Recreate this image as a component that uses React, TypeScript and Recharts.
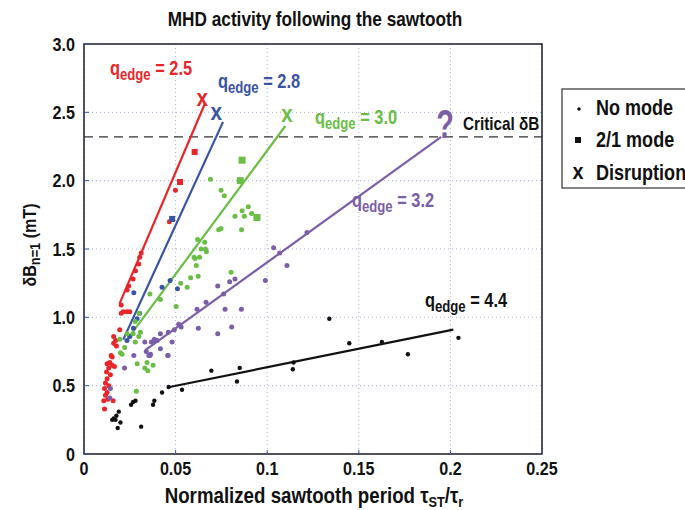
import React from 'react'
import { ScatterChart, Scatter, XAxis, YAxis, CartesianGrid, ReferenceLine, ReferenceArea } from 'recharts'

const xTicks = [0, 0.05, 0.1, 0.15, 0.2, 0.25]
const yTicks = [0, 0.5, 1, 1.5, 2, 2.5, 3]
const criticalDB = 2.32

// no-mode points, one array per q_edge
const redDots = [
  { x: 0.0312, y: 1.47 }, { x: 0.0304, y: 1.44 }, { x: 0.0299, y: 1.39 }, { x: 0.0281, y: 1.34 },
  { x: 0.0268, y: 1.28 }, { x: 0.0244, y: 1.23 }, { x: 0.0235, y: 1.2 }, { x: 0.0203, y: 1.09 },
  { x: 0.0214, y: 1.04 }, { x: 0.0235, y: 1.04 }, { x: 0.025, y: 1.04 }, { x: 0.0203, y: 1.03 },
  { x: 0.0195, y: 0.91 }, { x: 0.0162, y: 0.86 }, { x: 0.0172, y: 0.83 }, { x: 0.0162, y: 0.81 },
  { x: 0.0177, y: 0.79 }, { x: 0.0148, y: 0.72 }, { x: 0.0154, y: 0.71 }, { x: 0.0141, y: 0.67 },
  { x: 0.0126, y: 0.66 }, { x: 0.0154, y: 0.65 }, { x: 0.0166, y: 0.64 }, { x: 0.0135, y: 0.63 },
  { x: 0.0123, y: 0.6 }, { x: 0.0144, y: 0.58 }, { x: 0.0126, y: 0.55 }, { x: 0.0117, y: 0.52 },
  { x: 0.0135, y: 0.5 }, { x: 0.0112, y: 0.48 }, { x: 0.0126, y: 0.45 }, { x: 0.0117, y: 0.43 },
  { x: 0.0108, y: 0.39 }, { x: 0.013, y: 0.4 }, { x: 0.0159, y: 0.39 }, { x: 0.0112, y: 0.33 },
  { x: 0.0499, y: 1.93 }, { x: 0.0466, y: 1.7 },
]
const blueDots = [
  { x: 0.0426, y: 1.22 }, { x: 0.047, y: 1.27 }, { x: 0.051, y: 1.21 }, { x: 0.0272, y: 1.18 },
  { x: 0.0304, y: 1.03 }, { x: 0.029, y: 0.99 }, { x: 0.027, y: 0.92 }, { x: 0.025, y: 0.86 },
  { x: 0.0235, y: 0.83 },
]
const greenDots = [
  { x: 0.069, y: 2.01 }, { x: 0.0748, y: 1.93 }, { x: 0.0766, y: 1.89 }, { x: 0.0824, y: 1.74 },
  { x: 0.0863, y: 1.78 }, { x: 0.0875, y: 1.74 }, { x: 0.0897, y: 1.81 }, { x: 0.0915, y: 1.76 },
  { x: 0.086, y: 1.64 }, { x: 0.0748, y: 1.65 }, { x: 0.0735, y: 1.64 }, { x: 0.062, y: 1.57 },
  { x: 0.0659, y: 1.55 }, { x: 0.0639, y: 1.5 }, { x: 0.0663, y: 1.5 }, { x: 0.0668, y: 1.48 },
  { x: 0.0601, y: 1.44 }, { x: 0.0606, y: 1.43 }, { x: 0.0631, y: 1.44 }, { x: 0.0613, y: 1.38 },
  { x: 0.0803, y: 1.33 }, { x: 0.0623, y: 1.3 }, { x: 0.0582, y: 1.29 }, { x: 0.0528, y: 1.25 },
  { x: 0.0563, y: 1.22 }, { x: 0.036, y: 1.17 }, { x: 0.0417, y: 1.13 }, { x: 0.0503, y: 1.08 },
  { x: 0.0301, y: 1.03 }, { x: 0.028, y: 0.97 }, { x: 0.0308, y: 0.89 }, { x: 0.0299, y: 0.86 },
  { x: 0.0268, y: 0.88 }, { x: 0.0235, y: 0.88 }, { x: 0.0195, y: 0.84 }, { x: 0.0222, y: 0.78 },
  { x: 0.0199, y: 0.74 }, { x: 0.0208, y: 0.73 }, { x: 0.028, y: 0.82 }, { x: 0.029, y: 0.66 },
  { x: 0.0344, y: 0.67 }, { x: 0.0332, y: 0.63 }, { x: 0.0348, y: 0.61 }, { x: 0.0377, y: 0.65 },
  { x: 0.0286, y: 0.46 },
]
const purpleDots = [
  { x: 0.1217, y: 1.62 }, { x: 0.1035, y: 1.51 }, { x: 0.1068, y: 1.47 }, { x: 0.1108, y: 1.38 },
  { x: 0.099, y: 1.27 }, { x: 0.073, y: 1.23 }, { x: 0.0795, y: 1.26 }, { x: 0.0824, y: 1.28 },
  { x: 0.0762, y: 1.17 }, { x: 0.0617, y: 1.06 }, { x: 0.0666, y: 1.11 }, { x: 0.077, y: 1.06 },
  { x: 0.0859, y: 1.06 }, { x: 0.0517, y: 0.95 }, { x: 0.053, y: 0.93 }, { x: 0.0493, y: 0.91 },
  { x: 0.0624, y: 0.92 }, { x: 0.073, y: 0.88 }, { x: 0.0806, y: 0.93 }, { x: 0.0417, y: 0.88 },
  { x: 0.0481, y: 0.82 }, { x: 0.0459, y: 0.72 }, { x: 0.036, y: 0.72 }, { x: 0.038, y: 0.82 },
  { x: 0.046, y: 0.89 }, { x: 0.04, y: 0.83 }, { x: 0.0384, y: 0.84 }, { x: 0.0368, y: 0.82 },
  { x: 0.0332, y: 0.82 }, { x: 0.0363, y: 0.73 }, { x: 0.0354, y: 0.72 }, { x: 0.034, y: 0.75 },
  { x: 0.0417, y: 0.77 }, { x: 0.0457, y: 0.72 }, { x: 0.0272, y: 0.72 }, { x: 0.0221, y: 0.63 },
  { x: 0.0144, y: 0.48 }, { x: 0.0141, y: 0.41 },
]
const blackDots = [
  { x: 0.0462, y: 0.49 }, { x: 0.0535, y: 0.47 }, { x: 0.0426, y: 0.45 }, { x: 0.0384, y: 0.39 },
  { x: 0.0377, y: 0.36 }, { x: 0.0281, y: 0.39 }, { x: 0.0268, y: 0.38 }, { x: 0.0257, y: 0.36 },
  { x: 0.019, y: 0.31 }, { x: 0.0177, y: 0.28 }, { x: 0.0162, y: 0.26 }, { x: 0.0154, y: 0.25 },
  { x: 0.0172, y: 0.25 }, { x: 0.0199, y: 0.23 }, { x: 0.0184, y: 0.19 }, { x: 0.0312, y: 0.2 },
  { x: 0.0695, y: 0.61 }, { x: 0.085, y: 0.63 }, { x: 0.0835, y: 0.53 }, { x: 0.1144, y: 0.67 },
  { x: 0.114, y: 0.62 }, { x: 0.1339, y: 0.99 }, { x: 0.1448, y: 0.81 }, { x: 0.1626, y: 0.82 },
  { x: 0.1768, y: 0.73 }, { x: 0.2044, y: 0.85 },
]

// 2/1 mode points
const redSquares = [{ x: 0.0604, y: 2.21 }, { x: 0.0524, y: 1.99 }]
const blueSquares = [{ x: 0.0481, y: 1.72 }]
const greenSquares = [{ x: 0.0863, y: 2.15 }, { x: 0.0853, y: 2.0 }, { x: 0.0944, y: 1.73 }]

// disruptions
const redX = [{ x: 0.0646, y: 2.59 }]
const blueX = [{ x: 0.0722, y: 2.49 }]
const greenX = [{ x: 0.1108, y: 2.47 }]

// trend lines
const fits = [
  { color: '#e8262a', from: { x: 0.0194, y: 1.1 }, to: { x: 0.0662, y: 2.57 } },
  { color: '#3a54a4', from: { x: 0.0214, y: 0.837 }, to: { x: 0.0759, y: 2.43 } },
  { color: '#6abd45', from: { x: 0.0226, y: 0.82 }, to: { x: 0.1099, y: 2.4 } },
  { color: '#7b5ea8', from: { x: 0.0335, y: 0.76 }, to: { x: 0.195, y: 2.32 } },
  { color: '#111111', from: { x: 0.0468, y: 0.49 }, to: { x: 0.2016, y: 0.91 } },
]

const FONT = '"Liberation Sans", Arial, sans-serif'

// squeezed text to imitate a narrow bold face
function NText({ x, y, sx = 0.82, children, ...rest }: any) {
  return (
    <text transform={`scale(${sx} 1)`} x={x / sx} y={y} fontFamily={FONT} fontWeight="bold" fill="#111" {...rest}>
      {children}
    </text>
  )
}

const dot = (color: string, r: number) => (p: any) => <circle cx={p.cx} cy={p.cy} r={r} fill={color} />
const square = (color: string, s: number) => (p: any) => (
  <rect x={p.cx - s / 2} y={p.cy - s / 2} width={s} height={s} fill={color} />
)
const cross = (color: string) => (p: any) => (
  <NText x={p.cx} y={p.cy + 6} textAnchor="middle" fontSize={23} fill={color} sx={0.9}>
    x
  </NText>
)

const XTick = (p: any) => (
  <NText x={p.x} y={p.y} dy="0.71em" textAnchor="middle" fontSize={19} sx={0.85}>
    {String(p.payload.value)}
  </NText>
)
const YTick = (p: any) => (
  <NText x={p.x} y={p.y} dy="0.36em" textAnchor="end" fontSize={19} sx={0.85}>
    {p.payload.value === 0 ? '0' : p.payload.value.toFixed(1)}
  </NText>
)

function QLabel({ x, y, value, color }: { x: number; y: number; value: string; color: string }) {
  return (
    <NText x={x} y={y} fontSize={20} fill={color}>
      q<tspan fontSize={16} dy={5}>edge</tspan>
      <tspan dy={-5}>{' = ' + value}</tspan>
    </NText>
  )
}

export default function App() {
  return (
    <div style={{ position: 'absolute', left: 0, top: 0, width: 685, height: 510, overflow: 'hidden', background: '#fff' }}>
      <ScatterChart width={685} height={510} margin={{ top: 44, right: 143, bottom: 26, left: 24 }}>
        <CartesianGrid stroke="#a9b3e0" strokeDasharray="1 3" />
        <XAxis
          type="number"
          dataKey="x"
          domain={[0, 0.25]}
          ticks={xTicks}
          height={30}
          axisLine={false}
          tickLine={{ stroke: '#3a54a4' }}
          tickSize={-4}
          tick={XTick}
          tickMargin={12}
        />
        <YAxis
          type="number"
          dataKey="y"
          domain={[0, 3]}
          ticks={yTicks}
          width={60}
          axisLine={false}
          tickLine={{ stroke: '#3a54a4' }}
          tickSize={-5}
          tick={YTick}
          tickMargin={14}
        />
        <ReferenceArea x1={0} x2={0.25} y1={0} y2={3} fill="none" stroke="#1c1c2c" strokeWidth={1.5} />
        <ReferenceLine y={criticalDB} stroke="#333" strokeWidth={1.3} strokeDasharray="9 6" />
        {fits.map((f, i) => (
          <ReferenceLine key={i} segment={[f.from, f.to]} stroke={f.color} strokeWidth={2.2} />
        ))}
        <Scatter data={redDots} shape={dot('#e8262a', 2.5)} isAnimationActive={false} />
        <Scatter data={blueDots} shape={dot('#3a54a4', 2.5)} isAnimationActive={false} />
        <Scatter data={greenDots} shape={dot('#6abd45', 2.5)} isAnimationActive={false} />
        <Scatter data={purpleDots} shape={dot('#7b5ea8', 2.5)} isAnimationActive={false} />
        <Scatter data={blackDots} shape={dot('#111111', 2.2)} isAnimationActive={false} />
        <Scatter data={redSquares} shape={square('#e8262a', 6)} isAnimationActive={false} />
        <Scatter data={blueSquares} shape={square('#3a54a4', 6)} isAnimationActive={false} />
        <Scatter data={greenSquares} shape={square('#6abd45', 7)} isAnimationActive={false} />
        <Scatter data={redX} shape={cross('#e8262a')} isAnimationActive={false} />
        <Scatter data={blueX} shape={cross('#3a54a4')} isAnimationActive={false} />
        <Scatter data={greenX} shape={cross('#6abd45')} isAnimationActive={false} />
      </ScatterChart>

      <svg width={685} height={510} style={{ position: 'absolute', left: 0, top: 0, pointerEvents: 'none' }}>
        <NText x={315} y={26} textAnchor="middle" fontSize={21}>
          MHD activity following the sawtooth
        </NText>
        <QLabel x={110} y={75} value="2.5" color="#e8262a" />
        <QLabel x={218} y={88} value="2.8" color="#3a54a4" />
        <QLabel x={315} y={124} value="3.0" color="#6abd45" />
        <QLabel x={352} y={207} value="3.2" color="#7b5ea8" />
        <QLabel x={425} y={307} value="4.4" color="#111" />
        <NText x={445} y={138} textAnchor="middle" fontSize={40} sx={0.72} fill="#7b5ea8">
          ?
        </NText>
        <NText x={463} y={130} fontSize={18} sx={0.85}>
          Critical δB
        </NText>

        <text transform="translate(36,245) rotate(-90) scale(0.85 1)" textAnchor="middle" fontFamily={FONT} fontWeight="bold" fontSize={19} fill="#111">
          δB<tspan fontSize={15} dy={4}>n=1</tspan>
          <tspan dy={-4}> (mT)</tspan>
        </text>
        <NText x={314} y={503} textAnchor="middle" fontSize={22} sx={0.85}>
          Normalized sawtooth period τ<tspan fontSize={15} dy={4}>ST</tspan>
          <tspan dy={-4}>/τ</tspan>
          <tspan fontSize={15} dy={4}>r</tspan>
        </NText>

        <rect x={562} y={89} width={140} height={99} fill="#fff" stroke="#333" strokeWidth={1.2} />
        <circle cx={579} cy={109} r={1.8} fill="#111" />
        <NText x={596} y={115} fontSize={22}>No mode</NText>
        <rect x={575} y={137} width={6} height={6} fill="#111" />
        <NText x={596} y={147} fontSize={22}>2/1 mode</NText>
        <NText x={578} y={179} textAnchor="middle" fontSize={22} sx={0.9}>x</NText>
        <NText x={596} y={180} fontSize={22}>Disruption</NText>
      </svg>
    </div>
  )
}
